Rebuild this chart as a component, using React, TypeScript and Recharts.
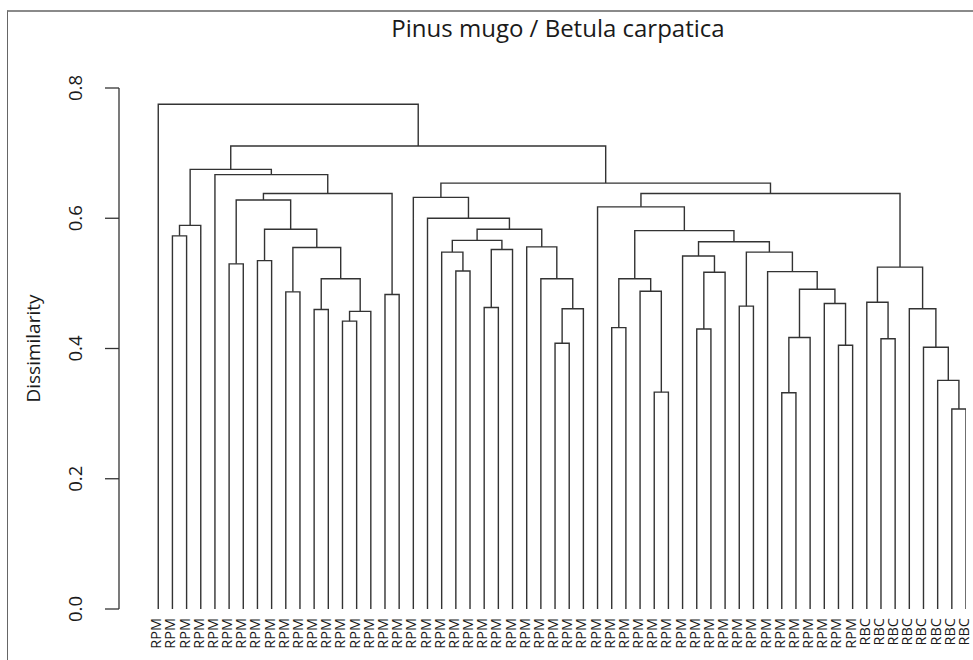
import React from 'react';
import { ComposedChart, Line, XAxis, YAxis } from 'recharts';

const chartTitle = 'Pinus mugo / Betula carpatica';
const yAxisTitle = 'Dissimilarity';
const yTicks = [0, 0.2, 0.4, 0.6, 0.8];

// leaf labels in dendrogram order (left to right)
const leafLabels = [
  'RPM', 'RPM', 'RPM', 'RPM', 'RPM', 'RPM', 'RPM', 'RPM', 'RPM', 'RPM',
  'RPM', 'RPM', 'RPM', 'RPM', 'RPM', 'RPM', 'RPM', 'RPM', 'RPM', 'RPM',
  'RPM', 'RPM', 'RPM', 'RPM', 'RPM', 'RPM', 'RPM', 'RPM', 'RPM', 'RPM',
  'RPM', 'RPM', 'RPM', 'RPM', 'RPM', 'RPM', 'RPM', 'RPM', 'RPM', 'RPM',
  'RPM', 'RPM', 'RPM', 'RPM', 'RPM', 'RPM', 'RPM', 'RPM', 'RPM', 'RPM',
  'RBC', 'RBC', 'RBC', 'RBC', 'RBC', 'RBC', 'RBC', 'RBC',
];

// merges (hclust convention): negative = leaf number (1-based), positive = earlier merge (1-based)
const mergePairs: [number, number][] = [
  [-2, -3], [1, -4], [-6, -7], [-8, -9], [-10, -11], [-12, -13], [-14, -15], [7, -16],
  [6, 8], [5, 9], [4, 10], [3, 11], [-17, -18], [12, 13], [-5, 14], [2, 15],
  [-22, -23], [-21, 17], [-24, -25], [19, -26], [18, 20], [-29, -30], [22, -31], [-28, 23],
  [-27, 24], [21, 25], [-20, 26], [-19, 27],
  [-33, -34], [-36, -37], [-35, 30], [29, 31], [-39, -40], [33, -41], [-38, 34], [-42, -43],
  [-45, -46], [37, -47], [-49, -50], [-48, 39], [38, 40], [-44, 41], [36, 42], [35, 43],
  [32, 44], [-32, 45],
  [-52, -53], [-51, 47], [-57, -58], [-56, 49], [-55, 50], [-54, 51], [48, 52],
  [46, 53], [28, 54], [16, 55], [-1, 56],
];

const mergeHeights = [
  0.573, 0.589, 0.530, 0.535, 0.487, 0.460, 0.442, 0.457,
  0.507, 0.555, 0.583, 0.628, 0.483, 0.638, 0.667, 0.675,
  0.519, 0.548, 0.463, 0.552, 0.566, 0.408, 0.461, 0.507,
  0.556, 0.583, 0.600, 0.632,
  0.432, 0.333, 0.488, 0.507, 0.430, 0.517, 0.542, 0.465,
  0.332, 0.417, 0.405, 0.469, 0.491, 0.518, 0.548, 0.564,
  0.581, 0.6175,
  0.415, 0.471, 0.307, 0.351, 0.402, 0.461, 0.525,
  0.638, 0.654, 0.711, 0.775,
];

type Pt = { x: number; y: number };
const nodeX: number[] = [];
const nodeH: number[] = [];
const links: Pt[][] = [];
const posOf = (r: number) =>
  r < 0 ? { x: -r - 1, h: 0 } : { x: nodeX[r - 1], h: nodeH[r - 1] };
mergePairs.forEach(([a, b], k) => {
  const A = posOf(a);
  const B = posOf(b);
  const h = mergeHeights[k];
  nodeX[k] = (A.x + B.x) / 2;
  nodeH[k] = h;
  links.push([
    { x: A.x, y: A.h },
    { x: A.x, y: h },
    { x: B.x, y: h },
    { x: B.x, y: B.h },
  ]);
});

const leafIdx = leafLabels.map((_, i) => i);
const FONT = '"Open Sans", sans-serif';

const LeafTick = (props: any) => {
  const { x, y, payload } = props;
  const label = leafLabels[payload.value];
  return (
    <text
      transform={`translate(${x + 3}, ${y}) rotate(-90)`}
      textAnchor="end"
      fontFamily={FONT}
      fontSize={14.5}
      fill="#1a1a1a"
    >
      {label}
    </text>
  );
};

const YTick = (props: any) => {
  const { x, y, payload } = props;
  return (
    <text
      transform={`translate(${x - 21}, ${y}) rotate(-90)`}
      textAnchor="middle"
      fontFamily={FONT}
      fontSize={18.5}
      fill="#1a1a1a"
    >
      {Number(payload.value).toFixed(1)}
    </text>
  );
};

export default function App() {
  return (
    <div style={{ position: 'absolute', left: 0, top: 0, width: 973, height: 660, background: '#fff', overflow: 'hidden' }}>
      <div
        style={{
          position: 'absolute',
          left: 7,
          top: 10,
          width: 980,
          height: 660,
          borderTop: '2px solid #8a8a8a',
          borderLeft: '1.5px solid #666',
          boxSizing: 'border-box',
        }}
      />
      <div style={{ position: 'absolute', left: 0, top: 0 }}>
        <ComposedChart width={973} height={660} margin={{ top: 88, right: 7, bottom: 0, left: 0 }}>
          <XAxis
            type="number"
            dataKey="x"
            domain={[-2.77, 57]}
            ticks={leafIdx}
            interval={0}
            axisLine={false}
            tickLine={false}
            tickSize={0}
            tickMargin={9}
            height={51}
            tick={<LeafTick />}
            allowDataOverflow
          />
          <YAxis
            type="number"
            domain={[0, 0.8]}
            ticks={yTicks}
            width={119}
            tickSize={14}
            axisLine={{ stroke: '#333', strokeWidth: 1.3 }}
            tickLine={{ stroke: '#333', strokeWidth: 1.3 }}
            tick={<YTick />}
            allowDataOverflow
          />
          {links.map((pts, i) => (
            <Line
              key={i}
              data={pts}
              dataKey="y"
              type="linear"
              stroke="#333"
              strokeWidth={1.4}
              dot={false}
              activeDot={false}
              isAnimationActive={false}
              legendType="none"
            />
          ))}
        </ComposedChart>
      </div>
      <svg width={973} height={660} style={{ position: 'absolute', left: 0, top: 0, pointerEvents: 'none' }}>
        <text x={558} y={37} textAnchor="middle" fontFamily={FONT} fontSize={24} fill="#1a1a1a">
          {chartTitle}
        </text>
        <text
          transform="translate(40, 348.5) rotate(-90)"
          textAnchor="middle"
          fontFamily={FONT}
          fontSize={19}
          fill="#1a1a1a"
        >
          {yAxisTitle}
        </text>
      </svg>
    </div>
  );
}
